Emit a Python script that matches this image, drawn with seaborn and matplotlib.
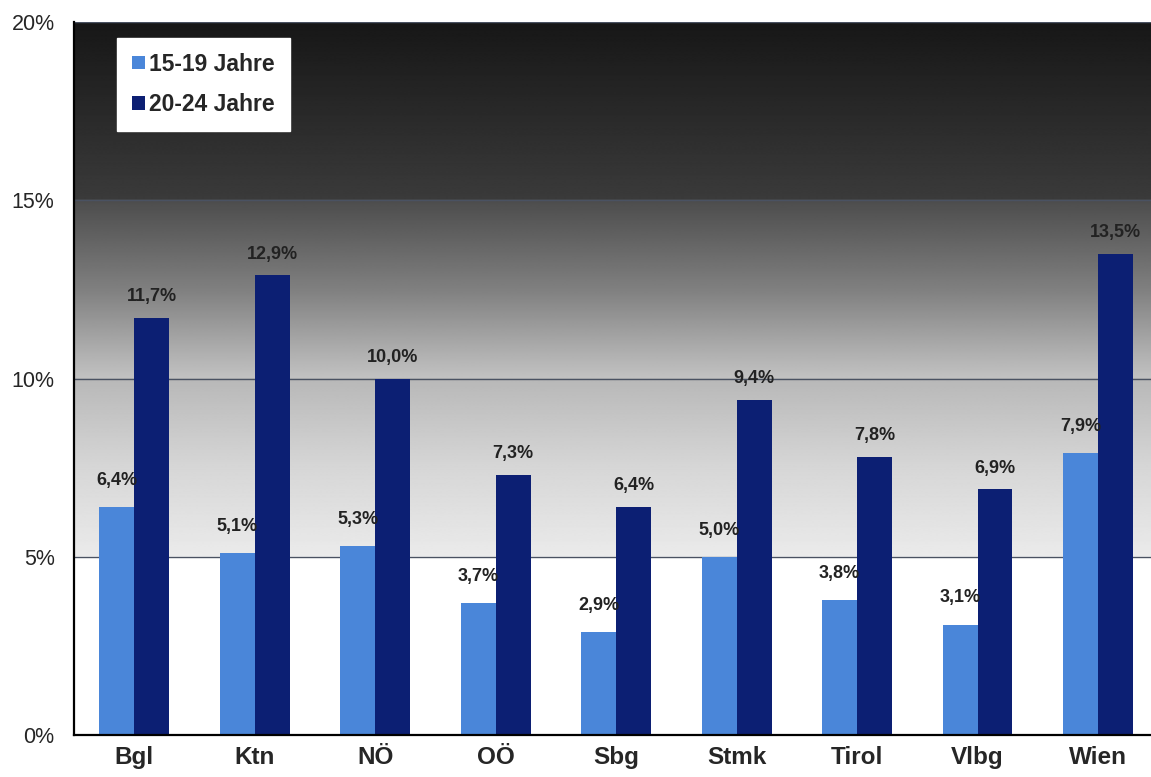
import numpy as np
import pandas as pd
import matplotlib
matplotlib.use('Agg')
import matplotlib.pyplot as plt
from matplotlib.ticker import FixedLocator
import seaborn as sns

# data (percent)
laender = ['Bgl', 'Ktn', 'NÖ', 'OÖ', 'Sbg', 'Stmk', 'Tirol', 'Vlbg', 'Wien']
jahre_15_19 = [6.4, 5.1, 5.3, 3.7, 2.9, 5.0, 3.8, 3.1, 7.9]
jahre_20_24 = [11.7, 12.9, 10.0, 7.3, 6.4, 9.4, 7.8, 6.9, 13.5]
gruppen = ['15-19 Jahre', '20-24 Jahre']
farben = ['#4a86d9', '#0c1f73']


def build_df():
    df = pd.DataFrame({
        'land': laender * 2,
        'wert': jahre_15_19 + jahre_20_24,
        'gruppe': [gruppen[0]] * len(laender) + [gruppen[1]] * len(laender),
    })
    return df


def gradient_background(ax, x0, x1):
    # scanned chart: dark at the top, fading to white at the 5% line
    ys = np.linspace(0, 20, 800)
    stops_y = [0, 4.99, 5.0, 7.5, 10.0, 10.01, 12.5, 15.0, 15.01, 20.0]
    stops_v = [1.0, 1.0, 0.92, 0.84, 0.72, 0.76, 0.50, 0.30, 0.23, 0.09]
    vals = np.interp(ys, stops_y, stops_v)
    img = np.repeat(vals[:, None], 2, axis=1)
    ax.imshow(img, extent=(x0, x1, 0, 20), origin='lower', aspect='auto',
              cmap='gray', vmin=0, vmax=1, zorder=0, interpolation='bilinear')


def main():
    sns.set_style('white')
    plt.rcParams['font.family'] = ['Liberation Sans', 'DejaVu Sans']

    df = build_df()
    fig = plt.figure(figsize=(11.51, 7.77), dpi=100)
    ax = fig.add_axes([0.0643, 0.054, 0.9357, 0.9177])

    x0, x1 = -0.5, 8.44
    gradient_background(ax, x0, x1)

    sns.barplot(data=df, x='land', y='wert', hue='gruppe', hue_order=gruppen,
                palette=farben, width=0.58, gap=0, saturation=1, ax=ax, zorder=2,
                edgecolor='none', linewidth=0)

    ax.set_xlim(x0, x1)
    ax.set_ylim(0, 20)
    ax.set_yticks([0, 5, 10, 15, 20])
    ax.set_yticklabels(['0%', '5%', '10%', '15%', '20%'], fontsize=15.5)
    ax.tick_params(axis='y', direction='out', length=7, width=1.2, color='black', pad=7)
    ax.tick_params(axis='x', which='major', length=0, pad=8, labelsize=17.5)
    for lbl in ax.get_xticklabels():
        lbl.set_fontweight('bold')
    ax.xaxis.set_minor_locator(FixedLocator(np.arange(0.5, 8.5, 1)))
    ax.tick_params(axis='x', which='minor', direction='out', length=6, width=1, color='#333333')

    ax.set_xlabel('')
    ax.set_ylabel('')
    ax.yaxis.grid(True, color='#4a5262', linewidth=1.0)
    ax.set_axisbelow(True)

    for side in ['top', 'right']:
        ax.spines[side].set_visible(False)
    ax.spines['left'].set_color('black')
    ax.spines['left'].set_linewidth(1.6)
    ax.spines['bottom'].set_color('black')
    ax.spines['bottom'].set_linewidth(1.6)

    fmt = lambda v: f'{v:.1f}%'.replace('.', ',')
    pads = [13, 9]
    for cont, pad in zip(ax.containers, pads):
        ax.bar_label(cont, fmt=fmt, padding=pad, fontsize=13, fontweight='bold', color='#222222')

    leg = ax.legend(loc='upper left', bbox_to_anchor=(0.04, 0.978), borderaxespad=0,
                    frameon=True, fancybox=False, fontsize=16.5, handlelength=0.55,
                    handleheight=0.55, handletextpad=0.2, labelspacing=0.75,
                    borderpad=0.65, title=None)
    leg.get_frame().set_facecolor('white')
    leg.get_frame().set_edgecolor('white')
    leg.get_frame().set_alpha(1)
    for t in leg.get_texts():
        t.set_fontweight('bold')

    fig.savefig('out.png', dpi=100)


if __name__ == "__main__":
    main()
